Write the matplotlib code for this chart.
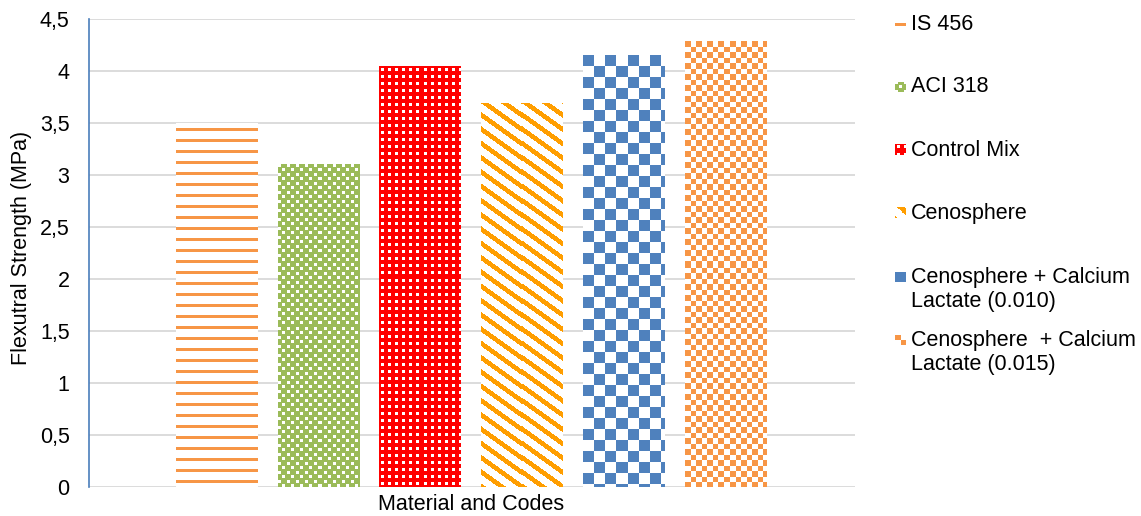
import numpy as np
import matplotlib.pyplot as plt
from matplotlib.colors import to_rgb

plt.rcParams['font.family'] = ['Liberation Sans', 'DejaVu Sans']

labels = ['IS 456', 'ACI 318', 'Control Mix', 'Cenosphere',
          'Cenosphere + Calcium\nLactate (0.010)',
          'Cenosphere  + Calcium\nLactate (0.015)']
strength = [3.50, 3.10, 4.04, 3.69, 4.15, 4.28]
colors = ['#F79646', '#9BBB59', '#FF0000', '#FF9E00', '#4F81BD', '#F79646']
fills = ['hlines', 'cross', 'dots', 'diag', 'bigcheck', 'smallcheck']
yticks = [0, 0.5, 1, 1.5, 2, 2.5, 3, 3.5, 4, 4.5]

W, H = 1141, 516


def pattern_mask(kind, h, w):
    r, c = np.mgrid[0:h, 0:w]
    if kind == 'hlines':
        return (r - 5) % 11 < 3
    if kind == 'cross':
        a = (r % 9 < 3) & (c % 9 < 3)
        b = ((r - 4) % 9 < 3) & ((c - 4) % 9 < 3)
        return ~(a | b)
    if kind == 'dots':
        return ~(((r % 7) >= 2) & ((r % 7) < 5) & ((c % 7) >= 2) & ((c % 7) < 5))
    if kind == 'diag':
        return (c - 1.4 * r) % 20 < 8
    if kind == 'bigcheck':
        return (r // 11 + c // 11) % 2 == 0
    return (np.floor(r / 5.5) + np.floor(c / 5.5)) % 2 == 0


def texture(kind, color, h, w):
    m = pattern_mask(kind, h, w)
    img = np.ones((h, w, 3))
    img[m] = to_rgb(color)
    return img


fig = plt.figure(figsize=(W / 100, H / 100), dpi=100)
ax = fig.add_axes([89 / W, 1 - 487 / H, (855 - 89) / W, (487 - 19) / H])

x = np.arange(len(labels))
bar_w = 0.8
bars = ax.bar(x, strength, width=bar_w, color='white', linewidth=0, zorder=2)
ax.set_xlim(-1.252, 6.272)
ax.set_ylim(0, 4.5)

# fill each bar with its pixel pattern
for xi, v, col, kind in zip(x, strength, colors, fills):
    (px0, py0), (px1, py1) = ax.transData.transform([(xi - bar_w / 2, 0), (xi + bar_w / 2, v)])
    w = max(int(round(px1 - px0)), 1)
    h = max(int(round(py1 - py0)), 1)
    ax.imshow(texture(kind, col, h, w), extent=(xi - bar_w / 2, xi + bar_w / 2, 0, v),
              aspect='auto', interpolation='nearest', zorder=3)
ax.set_xlim(-1.252, 6.272)
ax.set_ylim(0, 4.5)

ax.set_yticks(yticks)
ax.set_yticklabels([f'{t:g}'.replace('.', ',') for t in yticks])
ax.set_xticks([])
ax.tick_params(axis='y', length=0, pad=14, labelsize=15.5, labelcolor='#000000')
ax.yaxis.grid(True, color='#D9D9D9', linewidth=1.3)
ax.set_axisbelow(True)
for s in ['top', 'right', 'bottom']:
    ax.spines[s].set_visible(False)
ax.spines['left'].set_color('#4A7EBB')
ax.spines['left'].set_linewidth(1.2)
ax.spines['left'].set_zorder(4)

fig.text(22 / W, 1 - 248 / H, 'Flexutral Strength (MPa)', rotation=90,
         ha='center', va='center', fontsize=15.5)
fig.text(471 / W, 1 - 504 / H, 'Material and Codes', ha='center', va='center', fontsize=15.5)

# legend on the right
key_y = [24, 87, 150, 213, 277, 340]
for lab, col, kind, ky in zip(labels, colors, fills, key_y):
    kax = fig.add_axes([895 / W, 1 - (ky + 5.5) / H, 11 / W, 11 / H])
    kax.imshow(texture(kind, col, 11, 11), interpolation='nearest', aspect='auto')
    kax.axis('off')
    n = lab.count('\n')
    ty = ky + n * 12.5
    fig.text(911 / W, 1 - ty / H, lab, ha='left', va='center', fontsize=15.5,
             linespacing=1.15)

fig.savefig('out.png', dpi=100)
